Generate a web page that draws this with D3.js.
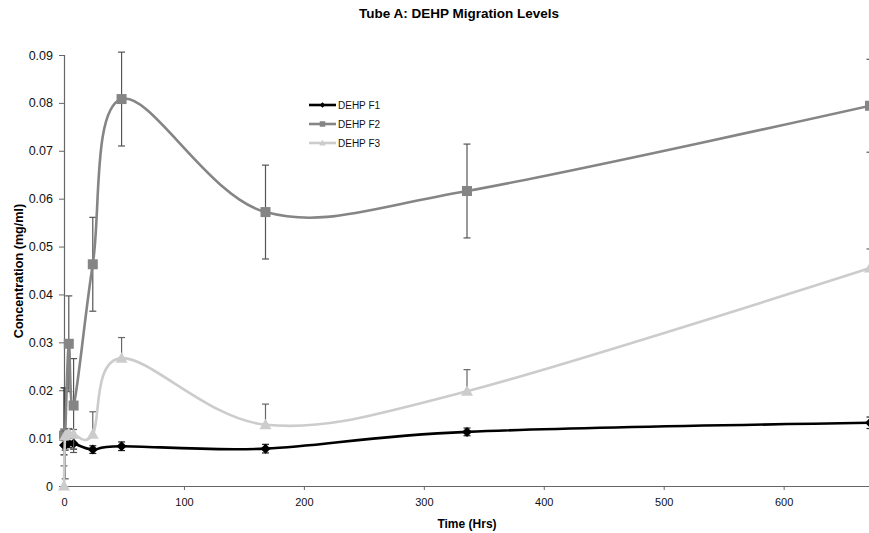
<!DOCTYPE html>
<html>
<head>
<meta charset="utf-8">
<script src="https://cdn.jsdelivr.net/npm/d3@7"></script>
<style>
  body { margin: 0; background: #fff; }
  svg { display: block; font-family: "Liberation Sans", Arial, sans-serif; }
</style>
</head>
<body>
<svg id="chart" width="869" height="533"></svg>
<script>
// ---- data ----
const times = [0, 1, 4, 8, 24, 48, 168, 336, 672];
const seriesNames = ["DEHP F1", "DEHP F2", "DEHP F3"];
const f1Values = [0.0085, 0.0085, 0.0090, 0.0089, 0.0076, 0.0083, 0.0078, 0.0113, 0.0132];
const f1ErrPlus = [0.0120, 0.0010, 0.0010, 0.0012, 0.0008, 0.0009, 0.0009, 0.0008, 0.0012];
const f1ErrMinus = [0.0020, 0.0010, 0.0010, 0.0012, 0.0008, 0.0009, 0.0009, 0.0008, 0.0012];
const f2Values = [0.0105, 0.0110, 0.0297, 0.0168, 0.0463, 0.0808, 0.0572, 0.0616, 0.0794];
const f2ErrPlus = [0.0010, 0.0095, 0.0100, 0.0098, 0.0098, 0.0098, 0.0098, 0.0098, 0.0097];
const f2ErrMinus = [0.0010, 0.0095, 0.0100, 0.0098, 0.0098, 0.0098, 0.0098, 0.0098, 0.0097];
const f3Values = [0.0000, 0.0105, 0.0110, 0.0108, 0.0108, 0.0267, 0.0128, 0.0198, 0.0455];
const f3ErrPlus = [0.0042, 0.0010, 0.0010, 0.0010, 0.0047, 0.0043, 0.0043, 0.0045, 0.0040];
const f3ErrMinus = [0, 0, 0, 0, 0, 0, 0, 0, 0];
const yTicks = [0, 0.01, 0.02, 0.03, 0.04, 0.05, 0.06, 0.07, 0.08, 0.09];
const xTicks = [0, 100, 200, 300, 400, 500, 600];

const series = [
  { name: seriesNames[0], values: f1Values, plus: f1ErrPlus, minus: f1ErrMinus, color: "#000000", err: "#222222", marker: "diamond" },
  { name: seriesNames[1], values: f2Values, plus: f2ErrPlus, minus: f2ErrMinus, color: "#858585", err: "#555555", marker: "square" },
  { name: seriesNames[2], values: f3Values, plus: f3ErrPlus, minus: f3ErrMinus, color: "#cccccc", err: "#666666", marker: "triangle" }
];

const svg = d3.select("#chart");
const x = d3.scaleLinear().domain([0, 672]).range([64, 870]);
const y = d3.scaleLinear().domain([0, 0.09]).range([486, 55]);

// title
svg.append("text").attr("x", 459).attr("y", 18).attr("text-anchor", "middle")
  .attr("font-size", 13.5).attr("font-weight", "bold").attr("fill", "#000")
  .text("Tube A: DEHP Migration Levels");

// axes
const yAxis = d3.axisLeft(y).tickValues(yTicks).tickSize(5).tickPadding(6)
  .tickFormat(d => d === 0 ? "0" : d3.format(".2f")(d));
const gy = svg.append("g").attr("transform", `translate(${x(0)},0)`).call(yAxis);
gy.select(".domain").attr("stroke", "#666").attr("stroke-width", 1.2);
gy.selectAll(".tick line").attr("stroke", "#666");
gy.selectAll(".tick text").attr("font-size", 12.5).attr("fill", "#111").attr("font-family", "Liberation Sans, Arial, sans-serif");

const xAxis = d3.axisBottom(x).tickValues(xTicks).tickSize(4).tickPadding(8).tickSizeOuter(0);
const gx = svg.append("g").attr("transform", `translate(0,${y(0)})`).call(xAxis);
gx.select(".domain").attr("stroke", "#666").attr("stroke-width", 1.2);
gx.selectAll(".tick line").attr("stroke", "#666");
gx.selectAll(".tick text").attr("font-size", 11).attr("fill", "#111").attr("font-family", "Liberation Sans, Arial, sans-serif");

// axis titles
svg.append("text").attr("x", 467).attr("y", 528).attr("text-anchor", "middle")
  .attr("font-size", 12).attr("font-weight", "bold").text("Time (Hrs)");
svg.append("text").attr("transform", "translate(22.5,271) rotate(-90)").attr("text-anchor", "middle")
  .attr("font-size", 12.6).attr("font-weight", "bold").text("Concentration (mg/ml)");

const line = d3.line().x((d, i) => x(times[i])).y(d => y(d)).curve(d3.curveCardinal.tension(0));

function marker(g, type, cx, cy, color) {
  if (type === "diamond") {
    g.append("path").attr("d", `M${cx},${cy - 5}L${cx + 5},${cy}L${cx},${cy + 5}L${cx - 5},${cy}Z`).attr("fill", color);
  } else if (type === "square") {
    g.append("rect").attr("x", cx - 5).attr("y", cy - 5).attr("width", 10).attr("height", 10).attr("fill", color);
  } else {
    g.append("path").attr("d", `M${cx},${cy - 6}L${cx + 6},${cy + 4.5}L${cx - 6},${cy + 4.5}Z`).attr("fill", color);
  }
}

series.forEach(s => {
  const g = svg.append("g");
  // error bars
  s.values.forEach((v, i) => {
    const cx = x(times[i]);
    const top = y(v + s.plus[i]);
    const bot = y(Math.max(0, v - s.minus[i]));
    if (s.plus[i] > 0) {
      g.append("line").attr("x1", cx).attr("x2", cx).attr("y1", y(v)).attr("y2", top).attr("stroke", s.err).attr("stroke-width", 1.2);
      g.append("line").attr("x1", cx - 3.5).attr("x2", cx + 3.5).attr("y1", top).attr("y2", top).attr("stroke", s.err).attr("stroke-width", 1.2);
    }
    if (s.minus[i] > 0) {
      g.append("line").attr("x1", cx).attr("x2", cx).attr("y1", y(v)).attr("y2", bot).attr("stroke", s.err).attr("stroke-width", 1.2);
      g.append("line").attr("x1", cx - 3.5).attr("x2", cx + 3.5).attr("y1", bot).attr("y2", bot).attr("stroke", s.err).attr("stroke-width", 1.2);
    }
  });
  g.append("path").datum(s.values).attr("d", line).attr("fill", "none")
    .attr("stroke", s.color).attr("stroke-width", 2.6);
  s.values.forEach((v, i) => marker(g, s.marker, x(times[i]), y(v), s.color));
});

// legend
const legendY = [105, 124, 143];
series.forEach((s, i) => {
  const g = svg.append("g");
  const ly = legendY[i];
  g.append("line").attr("x1", 309).attr("x2", 336).attr("y1", ly).attr("y2", ly)
    .attr("stroke", s.color).attr("stroke-width", 2.6);
  const mg = g.append("g").attr("transform", `translate(322.5,${ly}) scale(0.55) translate(-322.5,${-ly})`);
  marker(mg, s.marker, 322.5, ly, s.color);
  g.append("text").attr("x", 338).attr("y", ly + 4).attr("font-size", 10).attr("fill", "#111").text(s.name);
});
</script>
</body>
</html>
